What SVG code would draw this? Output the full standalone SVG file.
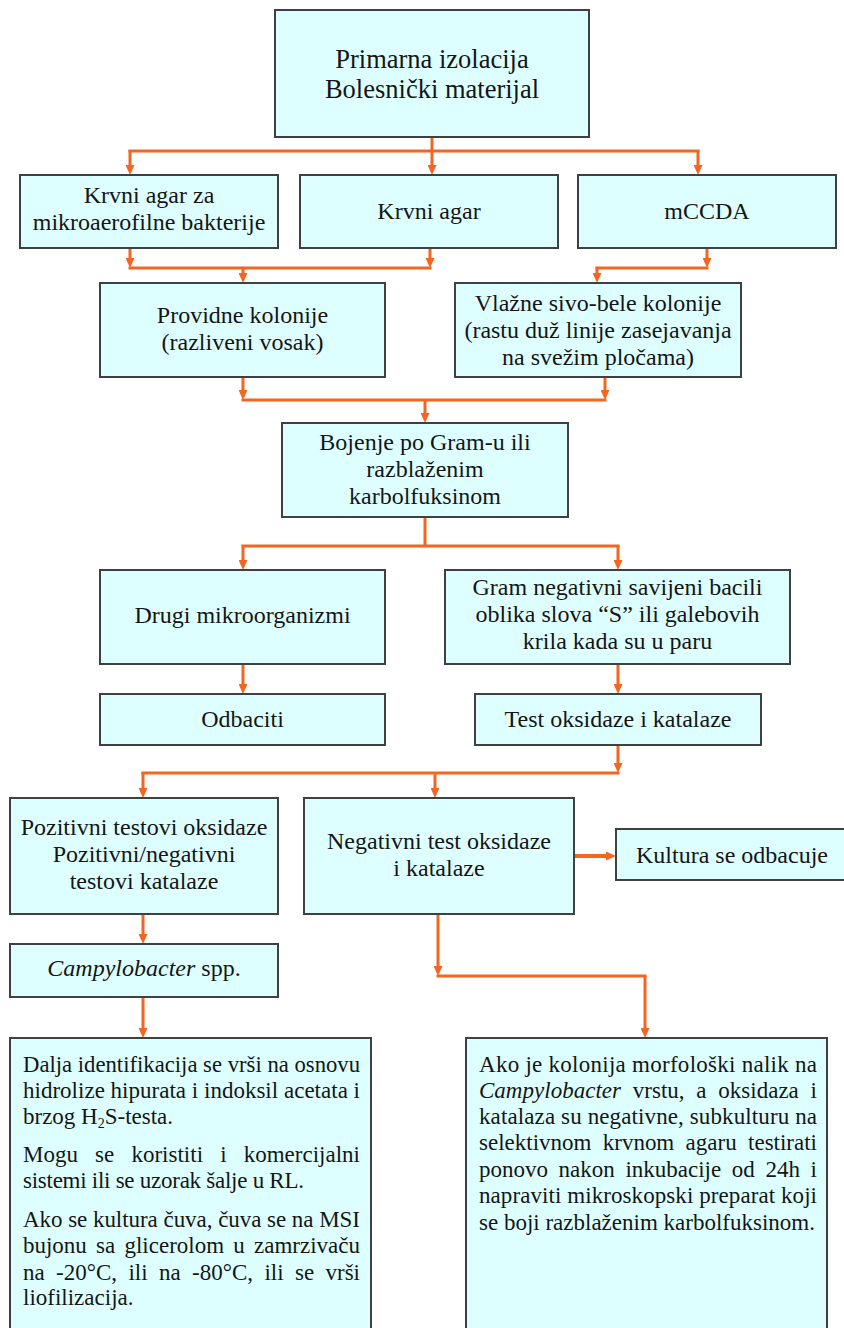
<svg xmlns="http://www.w3.org/2000/svg" width="844" height="1328" viewBox="0 0 844 1328">
<style>
.box{fill:#DEFFFF;stroke:#404040;stroke-width:2}
.t{font-family:"Liberation Serif","Times New Roman",serif;font-size:24px;fill:#151515;text-anchor:middle}
.p{font-family:"Liberation Serif","Times New Roman",serif;font-size:23px;fill:#151515;text-anchor:start}
.c{fill:none;stroke:#F26622;stroke-width:3}
.a{fill:none;stroke:#F26622;stroke-width:3;marker-end:url(#ah)}
.bar{fill:none;stroke:#F26622;stroke-width:3;stroke-linecap:square}
</style>
<defs>
<marker id="ah" markerUnits="userSpaceOnUse" markerWidth="10" markerHeight="9" viewBox="0 0 10 9" refX="0" refY="4.5" orient="auto">
<path d="M0,0 L10,4.5 L0,9 z" fill="#F26622"/>
</marker>
</defs>
<g id="connectors">
<path class="a" d="M432,138 V165"/>
<path class="bar" d="M130,151 H698"/>
<path class="a" d="M130,150 V165"/>
<path class="a" d="M698,150 V165"/>
<path class="a" d="M130,249 V258"/>
<path class="a" d="M430,249 V258"/>
<path class="bar" d="M130,268 H430"/>
<path class="a" d="M243,267 V273"/>
<path class="a" d="M707,249 V258"/>
<path class="bar" d="M597,268 H707"/>
<path class="a" d="M597,267 V273"/>
<path class="a" d="M243,378 V390"/>
<path class="a" d="M605,378 V390"/>
<path class="bar" d="M243,400 H605"/>
<path class="a" d="M425,399 V413"/>
<path class="c" d="M425,518 V546"/>
<path class="bar" d="M243,546 H618"/>
<path class="a" d="M243,545 V560"/>
<path class="a" d="M618,545 V560"/>
<path class="a" d="M243,665 V684"/>
<path class="a" d="M618,665 V684"/>
<path class="a" d="M618,746 V763"/>
<path class="bar" d="M143,773 H618"/>
<path class="a" d="M143,772 V788"/>
<path class="a" d="M435,772 V788"/>
<path class="a" d="M575,856 H606" style="stroke-width:4"/>
<path class="a" d="M143,915 V934"/>
<path class="a" d="M143,998 V1028"/>
<path class="a" d="M438,915 V966"/>
<path class="bar" d="M438,976 H645"/>
<path class="a" d="M645,976 V1028"/>
</g>
<g id="n1">
<rect class="box" x="275" y="10" width="314" height="127"/>
<text class="t" x="432" y="68" style="font-size:26.5px">Primarna izolacija</text>
<text class="t" x="432" y="98" style="font-size:26.5px">Bolesnički materijal</text>
</g>
<g id="n2">
<rect class="box" x="20" y="175" width="258" height="73"/>
<text class="t" x="149" y="203">Krvni agar za</text>
<text class="t" x="149" y="230">mikroaerofilne bakterije</text>
</g>
<g id="n3">
<rect class="box" x="300" y="175" width="258" height="73"/>
<text class="t" x="429" y="219">Krvni agar</text>
</g>
<g id="n4">
<rect class="box" x="578" y="175" width="258" height="73"/>
<text class="t" x="707" y="219">mCCDA</text>
</g>
<g id="n5">
<rect class="box" x="100" y="283" width="285" height="94"/>
<text class="t" x="242.5" y="323">Providne kolonije</text>
<text class="t" x="242.5" y="350">(razliveni vosak)</text>
</g>
<g id="n6">
<rect class="box" x="455" y="283" width="286" height="94"/>
<text class="t" x="598" y="311">Vlažne sivo-bele kolonije</text>
<text class="t" x="598" y="338">(rastu duž linije zasejavanja</text>
<text class="t" x="598" y="365">na svežim pločama)</text>
</g>
<g id="n7">
<rect class="box" x="282" y="423" width="286" height="94"/>
<text class="t" x="425" y="450">Bojenje po Gram-u ili</text>
<text class="t" x="425" y="477">razblaženim</text>
<text class="t" x="425" y="504">karbolfuksinom</text>
</g>
<g id="n8">
<rect class="box" x="100" y="570" width="285" height="94"/>
<text class="t" x="242.5" y="623">Drugi mikroorganizmi</text>
</g>
<g id="n9">
<rect class="box" x="445" y="570" width="345" height="94"/>
<text class="t" x="617.5" y="595">Gram negativni savijeni bacili</text>
<text class="t" x="617.5" y="622">oblika slova “S” ili galebovih</text>
<text class="t" x="617.5" y="649">krila kada su u paru</text>
</g>
<g id="n10">
<rect class="box" x="100" y="694" width="285" height="51"/>
<text class="t" x="242.5" y="727">Odbaciti</text>
</g>
<g id="n11">
<rect class="box" x="475" y="694" width="286" height="51"/>
<text class="t" x="618" y="727">Test oksidaze i katalaze</text>
</g>
<g id="n12">
<rect class="box" x="10" y="798" width="268" height="116"/>
<text class="t" x="144" y="835">Pozitivni testovi oksidaze</text>
<text class="t" x="144" y="862">Pozitivni/negativni</text>
<text class="t" x="144" y="889">testovi katalaze</text>
</g>
<g id="n13">
<rect class="box" x="304" y="798" width="270" height="116"/>
<text class="t" x="439" y="849">Negativni test oksidaze</text>
<text class="t" x="439" y="876">i katalaze</text>
</g>
<g id="n14">
<rect class="box" x="616" y="829" width="234" height="51"/>
<text class="t" x="732" y="863">Kultura se odbacuje</text>
</g>
<g id="n15">
<rect class="box" x="10" y="944" width="268" height="53"/>
<text class="t" x="144" y="976"><tspan font-style="italic">Campylobacter</tspan> spp.</text>
</g>
<g id="n16">
<rect class="box" x="10" y="1038" width="361" height="310"/>
<text class="p" x="23" y="1072" textLength="337" lengthAdjust="spacingAndGlyphs">Dalja identifikacija se vrši na osnovu</text>
<text class="p" x="23" y="1098" textLength="337" lengthAdjust="spacing">hidrolize hipurata i indoksil acetata i</text>
<text class="p" x="23" y="1124">brzog H<tspan font-size="14" dy="4">2</tspan><tspan dy="-4">S-testa.</tspan></text>
<text class="p" x="23" y="1162" word-spacing="11.4" textLength="337" lengthAdjust="spacing">Mogu se koristiti i komercijalni</text>
<text class="p" x="23" y="1188" textLength="281" lengthAdjust="spacing">sistemi ili se uzorak šalje u RL.</text>
<text class="p" x="23" y="1227" textLength="337" lengthAdjust="spacing">Ako se kultura čuva, čuva se na MSI</text>
<text class="p" x="23" y="1253" word-spacing="3.5" textLength="337" lengthAdjust="spacing">bujonu sa glicerolom u zamrzivaču</text>
<text class="p" x="23" y="1280" word-spacing="5.6" textLength="337" lengthAdjust="spacing">na -20°C, ili na -80°C, ili se vrši</text>
<text class="p" x="23" y="1305">liofilizacija.</text>
</g>
<g id="n17">
<rect class="box" x="466" y="1038" width="361" height="310"/>
<text class="p" x="479" y="1072" textLength="338" lengthAdjust="spacing">Ako je kolonija morfološki nalik na</text>
<text class="p" x="479" y="1098" word-spacing="6" textLength="338" lengthAdjust="spacing"><tspan font-style="italic">Campylobacter</tspan> vrstu, a oksidaza i</text>
<text class="p" x="479" y="1124" textLength="338" lengthAdjust="spacing">katalaza su negativne, subkulturu na</text>
<text class="p" x="479" y="1150" word-spacing="5.6" textLength="338" lengthAdjust="spacing">selektivnom krvnom agaru testirati</text>
<text class="p" x="479" y="1177" word-spacing="4.9" textLength="338" lengthAdjust="spacing">ponovo nakon inkubacije od 24h i</text>
<text class="p" x="479" y="1203" textLength="338" lengthAdjust="spacing">napraviti mikroskopski preparat koji</text>
<text class="p" x="479" y="1230">se boji razblaženim karbolfuksinom.</text>
</g>
</svg>
